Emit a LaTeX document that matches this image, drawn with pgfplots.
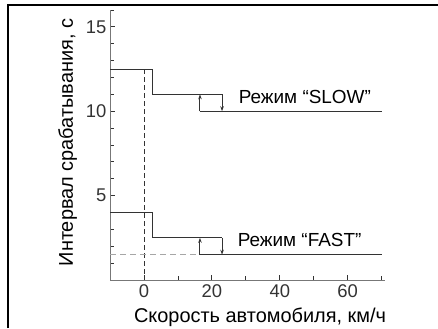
\documentclass[border=0pt]{standalone}
\usepackage{fontspec}
\setmainfont{Liberation Sans}
\usepackage{pgfplots}
\pgfplotsset{compat=1.18}
\usetikzlibrary{arrows.meta}
\definecolor{ln}{HTML}{333333}
\definecolor{ax}{HTML}{777777}
\begin{document}
\begin{tikzpicture}[x=1bp,y=1bp]
\useasboundingbox (0,0) rectangle (438,328);
\draw[line width=2.2bp, black] (8,0) -- (8,323) -- (440,323);
\begin{axis}[
  at={(110bp,48bp)}, anchor=south west,
  scale only axis, width=275bp, height=270bp,
  xmin=-10, xmax=71, ymin=0, ymax=16,
  axis x line*=bottom, axis y line*=left,
  axis line style={ax, line width=0.9bp, -},
  xtick={0,20,40,60}, ytick={5,10,15},
  minor xtick={10,30,50,70}, minor ytick={1,2,3,4,6,7,8,9,11,12,13,14,16},
  major tick length=5bp, minor tick length=4bp,
  tick style={ln, line width=0.8bp},
  tick align=inside,
  /pgf/number format/assume math mode=true,
  ticklabel style={font=\fontsize{18.5}{21}\selectfont, text=ln},
  xticklabel style={yshift=-1.5bp},
  label style={font=\fontsize{20}{23}\selectfont, text=black},
  xlabel={Скорость автомобиля, км/ч},
  xlabel style={at={(axis description cs:0.5455,-0.158)}, anchor=base},
  ylabel={Интервал срабатывания, с},
  ylabel style={at={(axis description cs:-0.1545,0.5093)}, anchor=center, rotate=0},
  clip=false,
]
% reference dashed lines
\addplot[ln, line width=0.8bp, dash pattern=on 5bp off 3bp] coordinates {(0,12.5) (0,0)};
\addplot[black!35, line width=1bp, dash pattern=on 6bp off 4bp] coordinates {(-10,1.5) (16.5,1.5)};
% SLOW
\addplot[ln, line width=1bp] coordinates {(-10,12.5) (2.5,12.5) (2.5,11) (23,11)};
\addplot[ln, line width=1bp, -{Stealth[length=5bp,width=3.5bp]}] coordinates {(23,11) (23,10)};
\addplot[ln, line width=1bp, -{Stealth[length=5bp,width=3.5bp]}] coordinates {(16.5,10) (16.5,11)};
\addplot[ln, line width=1bp] coordinates {(16.5,10) (70,10)};
% FAST
\addplot[ln, line width=1bp] coordinates {(-10,4) (2.5,4) (2.5,2.5) (23,2.5)};
\addplot[ln, line width=1bp, -{Stealth[length=5bp,width=3.5bp]}] coordinates {(23,2.5) (23,1.5)};
\addplot[ln, line width=1bp, -{Stealth[length=5bp,width=3.5bp]}] coordinates {(16.5,1.5) (16.5,2.5)};
\addplot[ln, line width=1bp] coordinates {(16.5,1.5) (70,1.5)};
\node[anchor=base west, inner sep=0pt, font=\fontsize{19}{22}\selectfont] at (axis cs:27.9,10.45) {Режим “SLOW”};
\node[anchor=base west, inner sep=0pt, font=\fontsize{19}{22}\selectfont] at (axis cs:27.6,2.0) {Режим “FAST”};
\end{axis}
\end{tikzpicture}
\end{document}
